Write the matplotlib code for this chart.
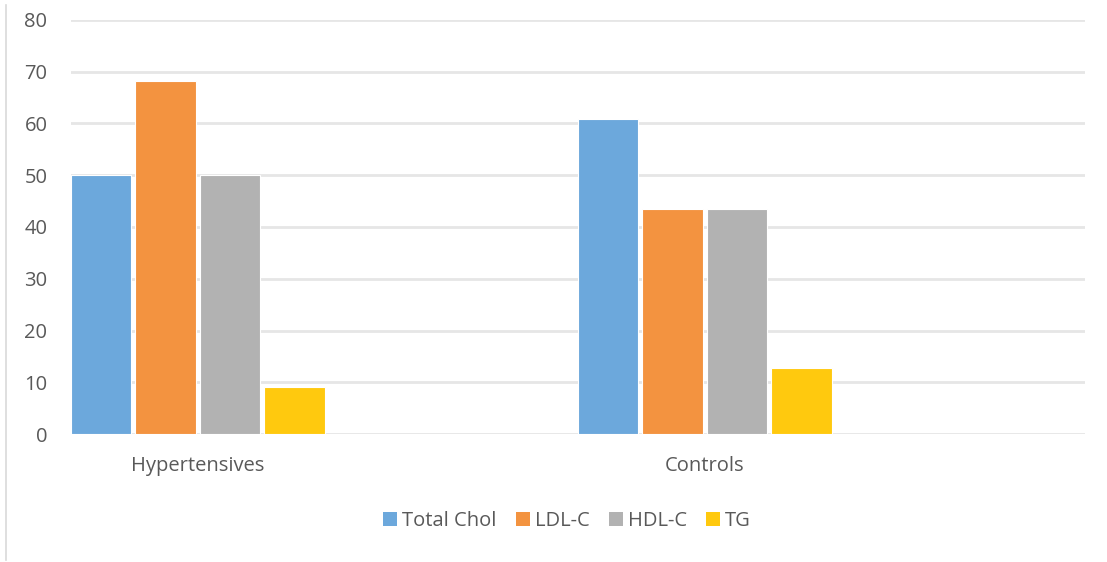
import matplotlib.pyplot as plt
from matplotlib.patches import Patch
from matplotlib.lines import Line2D

plt.rcParams['font.family'] = ['Open Sans', 'DejaVu Sans']

# Data
categories = ["Hypertensives", "Controls"]
series = ["Total Chol", "LDL-C", "HDL-C", "TG"]
values = {
    "Total Chol": [50.0, 60.9],
    "LDL-C": [68.3, 43.4],
    "HDL-C": [50.0, 43.4],
    "TG": [9.0, 12.8],
}
colors = ["#6CA8DC", "#F39340", "#B2B2B2", "#FFC90E"]
yticks = [0, 10, 20, 30, 40, 50, 60, 70, 80]

text_color = "#595959"
grid_color = "#E6E6E6"
fs = 14.5

fig = plt.figure(figsize=(11.07, 5.62), dpi=100)
ax = fig.add_axes([71 / 1107, 1 - 434 / 562, 1014 / 1107, 414 / 562])

pitch = 0.127
width = 0.119
for k, name in enumerate(series):
    xs = [i + k * pitch + width / 2 for i in range(len(categories))]
    ax.bar(xs, values[name], width=width, color=colors[k],
           edgecolor="white", linewidth=0.8, zorder=3, label=name)

ax.set_xlim(0, len(categories))
ax.set_ylim(0, 80)
ax.set_yticks(yticks)
ax.set_yticklabels([str(t) for t in yticks], fontsize=fs, color=text_color)
ax.set_xticks([i + 0.25 for i in range(len(categories))])
ax.set_xticklabels(categories, fontsize=fs, color=text_color)
ax.tick_params(axis="y", length=0, pad=17)
ax.tick_params(axis="x", length=0, pad=16)

ax.grid(axis="y", color=grid_color, linewidth=2, zorder=0)
ax.set_axisbelow(True)
for s in ax.spines.values():
    s.set_visible(False)

# Chart frame line on the left
fig.add_artist(Line2D([6 / 1107, 6 / 1107], [1 - 560 / 562, 1 - 5 / 562],
                      transform=fig.transFigure, color="#D9D9D9", linewidth=1.2))

handles = [Patch(facecolor=c, edgecolor="none") for c in colors]
fig.legend(handles, series, loc="center", bbox_to_anchor=(567 / 1107, 1 - 521 / 562),
           ncol=4, frameon=False, fontsize=fs, handlelength=0.7, handleheight=0.7,
           handletextpad=0.25, columnspacing=0.95, labelcolor=text_color)

fig.savefig("out.png", dpi=100)
